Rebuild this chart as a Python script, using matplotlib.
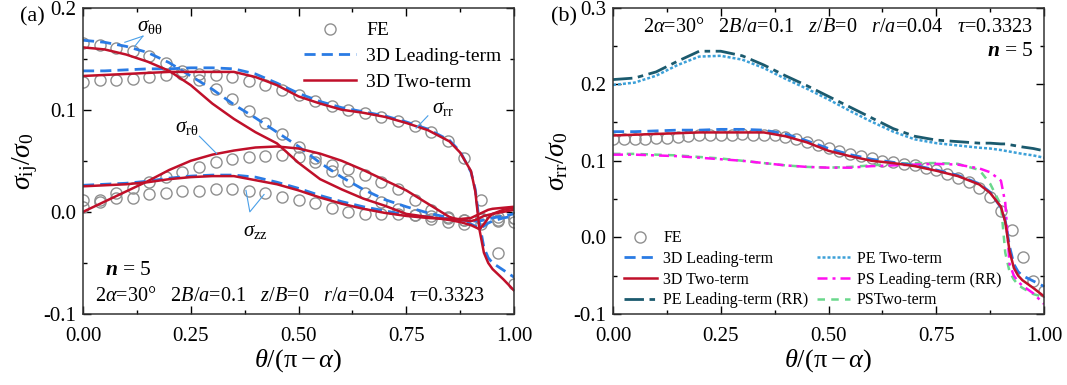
import matplotlib
matplotlib.use('Agg')
import matplotlib.pyplot as plt
from matplotlib.lines import Line2D
from matplotlib.ticker import MultipleLocator

plt.rcParams['font.family'] = 'Liberation Serif'
plt.rcParams['mathtext.fontset'] = 'custom'
plt.rcParams['mathtext.rm'] = 'Liberation Serif'
plt.rcParams['mathtext.it'] = 'Liberation Serif:italic'
plt.rcParams['mathtext.bf'] = 'Liberation Serif:bold:italic'
plt.rcParams['axes.unicode_minus'] = False

# theta/(pi-alpha) grid for the analytical curves
theta = [0, .05, .1, .15, .2, .25, .3, .35, .4, .45, .5, .55, .6, .65, .7, .75,
         .8, .85, .875, .9, .91, .92, .93, .94, .95, .975, 1.0]

# 3D leading-term (blue dashed) and two-term (red) components, panel (a)
rr_lead = [0.138, 0.138, 0.139, 0.140, 0.140, 0.141, 0.141, 0.140, 0.135, 0.126, 0.116, 0.108, 0.102, 0.098,
           0.094, 0.088, 0.081, 0.070, 0.059, 0.039, 0.022, -0.012, -0.035, -0.045, -0.050, -0.057, -0.064]
rr_two = [0.133, 0.134, 0.135, 0.136, 0.137, 0.137, 0.137, 0.137, 0.132, 0.124, 0.113, 0.106, 0.100, 0.097,
          0.093, 0.087, 0.080, 0.069, 0.058, 0.040, 0.020, -0.018, -0.040, -0.050, -0.056, -0.066, -0.077]
tt_lead = [0.168, 0.166, 0.162, 0.156, 0.146, 0.133, 0.120, 0.105, 0.092, 0.078, 0.064, 0.048, 0.034, 0.022,
           0.012, 0.005, -0.001, -0.006, -0.009, -0.012, -0.014, -0.016, -0.014, -0.011, -0.009, -0.006, -0.004]
tt_two = [0.161, 0.159, 0.154, 0.147, 0.138, 0.124, 0.106, 0.091, 0.078, 0.067, 0.048, 0.032, 0.022, 0.013,
          0.006, -0.002, -0.005, -0.008, -0.010, -0.013, -0.015, -0.017, -0.012, -0.006, -0.002, 0.002, 0.004]
rt_two = [0.000, 0.010, 0.020, 0.030, 0.041, 0.050, 0.056, 0.060, 0.063, 0.064, 0.062, 0.057, 0.050, 0.041,
          0.031, 0.021, 0.008, -0.005, -0.008, -0.009, -0.008, -0.006, -0.004, -0.003, -0.002, 0.000, 0.002]
zz_lead = [0.026, 0.027, 0.028, 0.030, 0.033, 0.035, 0.036, 0.036, 0.034, 0.029, 0.023, 0.016, 0.010, 0.005,
           0.001, -0.003, -0.005, -0.007, -0.008, -0.009, -0.009, -0.009, -0.008, -0.007, -0.006, -0.004, -0.002]
zz_two = [0.025, 0.026, 0.027, 0.029, 0.032, 0.034, 0.035, 0.035, 0.031, 0.027, 0.021, 0.014, 0.008, 0.003,
          -0.001, -0.004, -0.006, -0.007, -0.007, -0.006, -0.004, -0.002, 0.000, 0.002, 0.003, 0.004, 0.005]

# FE results, panel (a)
theta_fe_a = [k / 26 for k in range(27)]
fe_rr_a = [0.127, 0.129, 0.129, 0.130, 0.132, 0.134, 0.135, 0.135, 0.134, 0.132, 0.128, 0.124, 0.119, 0.114,
           0.109, 0.104, 0.100, 0.097, 0.093, 0.089, 0.084, 0.078, 0.069, 0.053, 0.012, -0.040, -0.071]
fe_tt_a = [0.165, 0.163, 0.160, 0.157, 0.153, 0.146, 0.138, 0.129, 0.120, 0.110, 0.099, 0.087, 0.076, 0.063,
           0.053, 0.040, 0.030, 0.018, 0.010, 0.003, -0.003, -0.007, -0.010, -0.012, -0.012, -0.009, -0.006]
fe_rt_a = [0.005, 0.012, 0.018, 0.023, 0.029, 0.034, 0.039, 0.044, 0.049, 0.052, 0.054, 0.055, 0.056, 0.054,
           0.049, 0.046, 0.042, 0.036, 0.029, 0.022, 0.012, 0.002, -0.006, -0.008, -0.007, -0.008, -0.010]
fe_zz_a = [0.012, 0.010, 0.014, 0.014, 0.017, 0.018, 0.020, 0.020, 0.022, 0.022, 0.020, 0.018, 0.015, 0.012,
           0.009, 0.004, 0.000, -0.002, -0.002, -0.002, -0.003, -0.004, -0.005, -0.008, -0.006, -0.005, -0.006]

# panel (b): sigma_rr from plane strain / plane stress solutions
pe_lead = [0.206, 0.208, 0.216, 0.230, 0.243, 0.243, 0.237, 0.225, 0.211, 0.198, 0.184, 0.170, 0.156, 0.142,
           0.132, 0.127, 0.125, 0.123, 0.123, 0.122, 0.122, 0.121, 0.120, 0.119, 0.118, 0.116, 0.113]
pe_two = [0.199, 0.202, 0.211, 0.225, 0.236, 0.237, 0.232, 0.221, 0.207, 0.194, 0.180, 0.165, 0.151, 0.138,
          0.128, 0.123, 0.120, 0.117, 0.116, 0.114, 0.113, 0.112, 0.111, 0.110, 0.109, 0.107, 0.104]
ps_lead = [0.108, 0.108, 0.107, 0.106, 0.104, 0.102, 0.100, 0.097, 0.094, 0.092, 0.091, 0.091, 0.093, 0.094,
           0.095, 0.096, 0.095, 0.090, 0.085, 0.074, 0.045, -0.035, -0.050, -0.058, -0.063, -0.073, -0.087]
ps_two = [0.109, 0.109, 0.108, 0.107, 0.105, 0.103, 0.100, 0.097, 0.094, 0.092, 0.091, 0.092, 0.094, 0.096,
          0.097, 0.097, 0.096, 0.088, 0.070, 0.042, -0.020, -0.045, -0.055, -0.062, -0.066, -0.074, -0.078]
theta_fe_b = [k / 40 for k in range(41)]
fe_rr_b = [0.128, 0.128, 0.129, 0.129, 0.130, 0.130, 0.131, 0.132, 0.133, 0.133, 0.134, 0.134, 0.135, 0.134,
           0.134, 0.133, 0.131, 0.128, 0.124, 0.121, 0.117, 0.113, 0.109, 0.106, 0.103, 0.100, 0.098, 0.096,
           0.094, 0.091, 0.088, 0.083, 0.077, 0.072, 0.065, 0.053, 0.034, 0.009, -0.025, -0.057, -0.070]

BLUE = '#2a7be4'
RED = '#c0102a'
TEAL = '#1b5a6e'
LBLUE = '#3ca0d8'
MAG = '#ff10f0'
GREEN = '#6ad88c'
LEAD = '#4a9fe8'

fig = plt.figure(figsize=(10.67, 3.85), dpi=100)
ax1 = fig.add_axes([0.0778, 0.1844, 0.404, 0.796])
ax2 = fig.add_axes([0.5745, 0.1844, 0.404, 0.796])

fe_kw = dict(ls='none', marker='o', ms=8, mfc='none', mec='#8f8f8f', mew=1.0)
lead_kw = dict(color=BLUE, lw=2.0, dashes=(4, 2.2))
two_kw = dict(color=RED, lw=1.8)

# ---- panel (a)
for fe in [fe_rr_a, fe_tt_a, fe_rt_a, fe_zz_a]:
    ax1.plot(theta_fe_a, fe, **fe_kw)
for s in [rr_lead, tt_lead, zz_lead]:
    ax1.plot(theta, s, **lead_kw)
for s in [rr_two, tt_two, rt_two, zz_two]:
    ax1.plot(theta, s, **two_kw)

h_fe = Line2D([], [], **fe_kw)
h_lead = Line2D([], [], **lead_kw)
h_two = Line2D([], [], **two_kw)
ax1.legend([h_fe, h_lead, h_two], ['FE', '3D Leading-term', '3D Two-term'],
           loc='upper left', bbox_to_anchor=(0.49, 0.985), frameon=False, fontsize=14,
           handlelength=2.7, handletextpad=0.5, labelspacing=0.42, borderpad=0)

# component labels with leader lines
ax1.text(0.155, 0.181, r'$\sigma_{\mathrm{\theta\theta}}$', fontsize=15, ha='center', va='center')
ax1.plot([0.139, 0.097], [0.172, 0.166], color=LEAD, lw=0.8)
ax1.plot([0.139, 0.12], [0.172, 0.162], color=LEAD, lw=0.8)
ax1.text(0.835, 0.101, r'$\sigma_{\mathrm{rr}}$', fontsize=15, ha='center', va='center')
ax1.plot([0.80, 0.773], [0.094, 0.082], color=LEAD, lw=0.8)
ax1.text(0.24, 0.083, r'$\sigma_{\mathrm{r\theta}}$', fontsize=15, ha='center', va='center')
ax1.plot([0.27, 0.31], [0.074, 0.057], color=LEAD, lw=0.8)
ax1.text(0.40, -0.019, r'$\sigma_{\mathrm{zz}}$', fontsize=15, ha='center', va='center')
ax1.plot([0.378, 0.387, 0.42], [0.021, 0.0, 0.017], color=LEAD, lw=0.8)

params = r'$2\alpha$=30°   $2B/a$=0.1   $z/B$=0   $r/a$=0.04   $\tau$=0.3323'
ax1.text(0.05, -0.057, r'$\mathbf{n}$ = 5', fontsize=15.5, ha='left', va='center')
ax1.text(0.028, -0.083, params, fontsize=14.6, ha='left', va='center')

ax1.set_xlim(0, 1)
ax1.set_ylim(-0.1, 0.2)
ax1.yaxis.set_major_locator(MultipleLocator(0.1))
ax1.yaxis.set_minor_locator(MultipleLocator(0.05))
ax1.set_ylabel(r'$\sigma_{\mathrm{ij}}/\sigma_0$', fontsize=20, labelpad=2)
fig.text(0.019, 0.955, '(a)', fontsize=16, ha='left', va='center')

# ---- panel (b)
ax2.plot(theta_fe_b, fe_rr_b, **fe_kw)
ax2.plot(theta, pe_two, color=LBLUE, lw=1.8, dashes=(1.2, 0.8))
ax2.plot(theta, pe_lead, color=TEAL, lw=2.0, dashes=(7, 2, 2, 2))
ax2.plot(theta, ps_two, color=GREEN, lw=1.8, dashes=(3, 2.5))
ax2.plot(theta, ps_lead, color=MAG, lw=1.8, dashes=(4, 2, 1.2, 2))
ax2.plot(theta, rr_lead, **lead_kw)
ax2.plot(theta, rr_two, **two_kw)

hb = [h_fe, h_lead, h_two,
      Line2D([], [], color=TEAL, lw=2.0, dashes=(7, 2, 2, 2)),
      Line2D([], [], ls='none'),
      Line2D([], [], color=LBLUE, lw=1.8, dashes=(1.2, 0.8)),
      Line2D([], [], color=MAG, lw=1.8, dashes=(4, 2, 1.2, 2)),
      Line2D([], [], color=GREEN, lw=1.8, dashes=(3, 2.5))]
lb = ['FE', '3D Leading-term', '3D Two-term', 'PE Leading-term (RR)',
      '', 'PE Two-term', 'PS Leading-term (RR)', 'PSTwo-term']
ax2.legend(hb, lb, loc='lower left', bbox_to_anchor=(0.006, -0.008), ncol=2, frameon=False,
           fontsize=11.5, handlelength=2.1, handletextpad=0.4, labelspacing=0.3,
           columnspacing=0.5, borderpad=0)

ax2.text(0.07, 0.274, params, fontsize=14.6, ha='left', va='center')
ax2.text(0.975, 0.243, r'$\mathbf{n}$ = 5', fontsize=15.5, ha='right', va='center')

ax2.set_xlim(0, 1)
ax2.set_ylim(-0.1, 0.3)
ax2.yaxis.set_major_locator(MultipleLocator(0.1))
ax2.yaxis.set_minor_locator(MultipleLocator(0.05))
ax2.set_ylabel(r'$\sigma_{\mathrm{rr}}/\sigma_0$', fontsize=20, labelpad=2)
fig.text(0.516, 0.955, '(b)', fontsize=16, ha='left', va='center')

for ax in (ax1, ax2):
    ax.xaxis.set_major_locator(MultipleLocator(0.25))
    ax.xaxis.set_minor_locator(MultipleLocator(0.125))
    ax.xaxis.set_major_formatter(matplotlib.ticker.FormatStrFormatter('%.2f'))
    ax.yaxis.set_major_formatter(matplotlib.ticker.FormatStrFormatter('%.1f'))
    ax.tick_params(which='both', direction='in', top=True, right=True, labelsize=15, width=1)
    ax.tick_params(which='major', length=6)
    ax.tick_params(which='minor', length=3)
    ax.tick_params(axis='x', which='major', pad=9)
    ax.tick_params(axis='y', which='major', pad=5)
    for sp in ax.spines.values():
        sp.set_linewidth(1.1)
        sp.set_color('#333333')
    ax.set_xlabel(r'$\theta/(\mathrm{\pi}-\alpha)$', fontsize=19, labelpad=1)

fig.savefig('out.png', dpi=100)
